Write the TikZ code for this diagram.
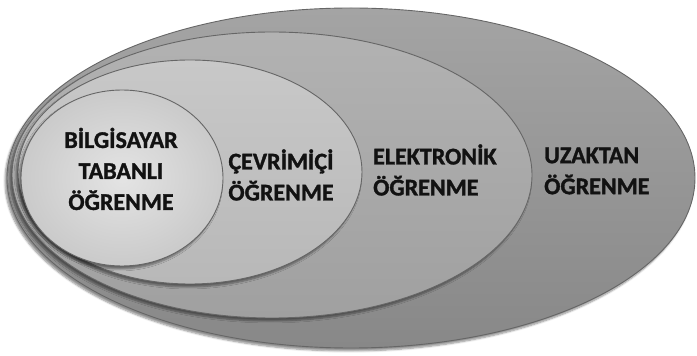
\documentclass[tikz,border=0pt]{standalone}
\usepackage{fontspec}
\setmainfont{Carlito}[BoldFeatures={FakeBold=1.3}]
\usetikzlibrary{shapes.geometric,shadows.blur}
\definecolor{txt}{HTML}{121212}
\definecolor{edge}{HTML}{666666}
\definecolor{uzT}{HTML}{A4A4A4}
\definecolor{uzB}{HTML}{888888}
\definecolor{elT}{HTML}{B2B2B2}
\definecolor{elB}{HTML}{A0A0A0}
\definecolor{ceT}{HTML}{C8C8C8}
\definecolor{ceB}{HTML}{B8B8B8}
\definecolor{biI}{HTML}{E4E4E4}
\definecolor{biO}{HTML}{CACACA}
\tikzset{
  ring/.style={ellipse, inner sep=0pt, draw=edge, line width=0.9pt,
    blur shadow={shadow xshift=-2pt, shadow yshift=-3pt, shadow blur steps=6, shadow opacity=45}},
  lbl/.style={font=\bfseries\fontsize{24}{31}\selectfont, text=txt, inner sep=0pt},
}
\begin{document}
\begin{tikzpicture}[x=1pt,y=1pt]
\useasboundingbox (0,0) rectangle (697,356);
\node[ring, minimum width=688pt, minimum height=340pt,
      top color=uzT, bottom color=uzB] (uz) at (351,178) {};
\node[ring, minimum width=520pt, minimum height=286pt,
      top color=elT, bottom color=elB] (el) at (272,181) {};
\node[ring, minimum width=344pt, minimum height=224pt,
      top color=ceT, bottom color=ceB] (ce) at (190,184) {};
\node[ring, minimum width=202pt, minimum height=176pt,
      inner color=biI, outer color=biO] (bi) at (122,178) {};
\node[lbl, align=center] (tb) at (121,187) {BİLGİSAYAR\\TABANLI\\ÖĞRENME};
\node[lbl, align=center] (tc) at (281,181) {ÇEVRİMİÇİ\\ÖĞRENME};
\node[lbl, align=left, anchor=west] (te) at (373,186) {ELEKTRONİK\\ÖĞRENME};
\node[lbl, align=left, anchor=west] (tu) at (544,185) {UZAKTAN\\ÖĞRENME};
\end{tikzpicture}
\end{document}
